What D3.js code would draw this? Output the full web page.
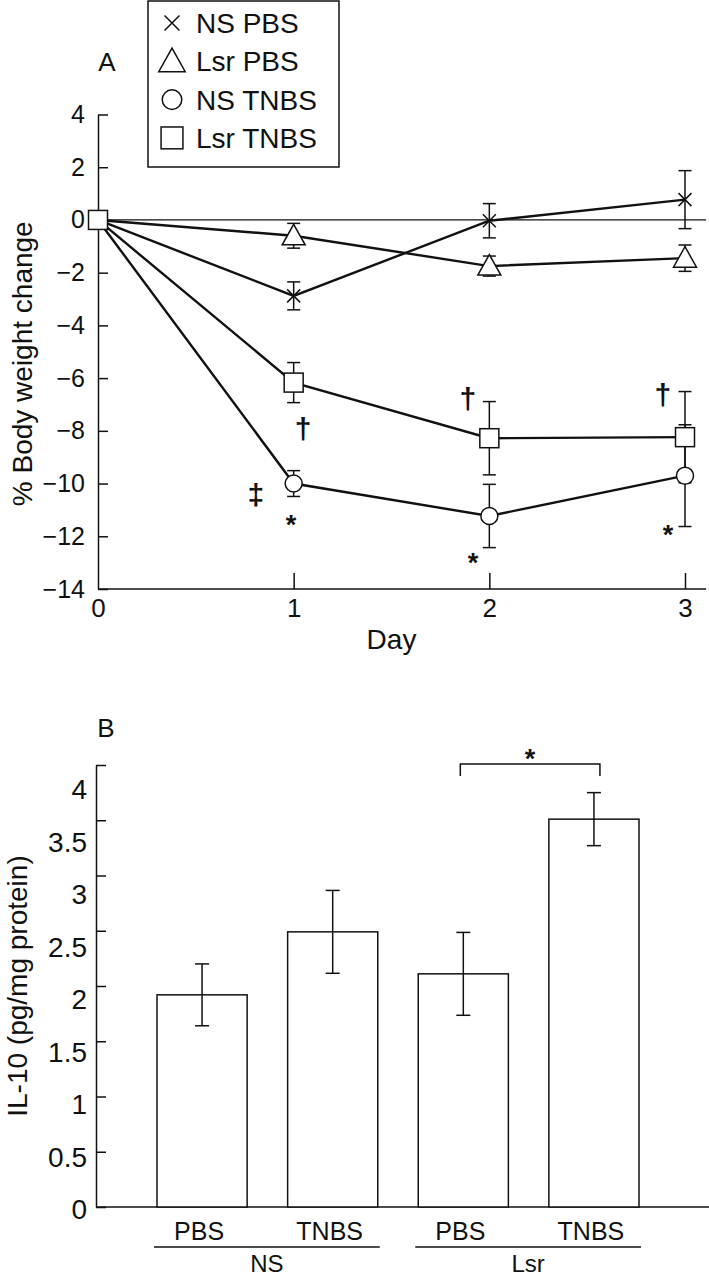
<!DOCTYPE html>
<html><head><meta charset="utf-8">
<script src="https://cdn.jsdelivr.net/npm/d3@7"></script>
<style>body{margin:0;background:#fff}svg{display:block}text{font-family:"Liberation Sans",Arial,sans-serif;fill:#111}</style>
</head><body>
<script>
// ---------- Panel A data ----------
const days = [0, 1, 2, 3];
const seriesNames = ["NS PBS", "Lsr PBS", "NS TNBS", "Lsr TNBS"];
const seriesSymbols = ["cross", "triangle", "circle", "square"];
const nsPbs = [0, -2.88, -0.03, 0.77];
const nsPbsErr = [0, 0.53, 0.65, 1.1];
const lsrPbs = [0, -0.6, -1.75, -1.45];
const lsrPbsErr = [0, 0.47, 0.38, 0.5];
const nsTnbs = [0, -10.0, -11.23, -9.7];
const nsTnbsErr = [0, 0.49, 1.2, 1.93];
const lsrTnbs = [0, -6.17, -8.28, -8.24];
const lsrTnbsErr = [0, 0.76, 1.39, 1.73];
const yTicksA = [-14, -12, -10, -8, -6, -4, -2, 0, 2, 4];
const xTicksA = [0, 1, 2, 3];
// significance marks (text, day, value)
const annoText = ["†", "†", "†", "‡", "*", "*", "*"];
const annoDay = [1.048, 1.89, 2.887, 0.807, 0.986, 1.916, 2.913];
const annoVal = [-7.85, -6.71, -6.56, -10.36, -11.27, -12.71, -11.65];

// ---------- Panel B data ----------
const categoriesB = ["NS PBS", "NS TNBS", "Lsr PBS", "Lsr TNBS"];
const catLabelsB = ["PBS", "TNBS", "PBS", "TNBS"];
const groupsB = ["NS", "Lsr"];
const il10 = [1.92, 2.49, 2.11, 3.51];
const il10Err = [0.28, 0.375, 0.375, 0.24];
const yTicksB = [0, 0.5, 1, 1.5, 2, 2.5, 3, 3.5, 4];

const W = 709, H = 1280;
const svg = d3.select("body").append("svg").attr("width", W).attr("height", H);

// ================= PANEL A =================
const xA = d3.scaleLinear().domain([0, 3]).range([98, 685]);
const yA = d3.scaleLinear().domain([-14, 4]).range([589, 114.5]);
const xEndA = 3.108;
const gA = svg.append("g");

// y axis
const axA = gA.append("g").attr("transform", `translate(${xA(0)},0)`)
  .call(d3.axisLeft(yA).tickValues(yTicksA).tickSizeInner(-10).tickSizeOuter(0).tickPadding(13).tickFormat(d3.format("d")));
axA.selectAll("text").style("font-size", "25px").attr("fill", "#111");
axA.selectAll("path,line").attr("stroke", "#111").attr("stroke-width", 1.5);
// x axis
const axAx = gA.append("g").attr("transform", `translate(0,${yA(-14)})`)
  .call(d3.axisBottom(xA).tickValues(xTicksA).tickSizeInner(-16).tickSizeOuter(0).tickPadding(10).tickFormat(d3.format("d")));
axAx.select(".domain").attr("d", `M${xA(0)},0H${xA(xEndA)}`);
axAx.selectAll(".tick").filter(d => d === 0).select("line").remove();
axAx.selectAll("text").style("font-size", "26px").attr("fill", "#111");
axAx.selectAll("path,line").attr("stroke", "#111").attr("stroke-width", 1.5);

// zero line
gA.append("line").attr("x1", xA(0)).attr("x2", xA(xEndA)).attr("y1", yA(0)).attr("y2", yA(0))
  .attr("stroke", "#111").attr("stroke-width", 1.3);

// titles
gA.append("text").attr("x", xA(1.5)).attr("y", 649).attr("text-anchor", "middle").style("font-size", "28px").text("Day");
gA.append("text").attr("transform", `translate(32,${(yA(4) + yA(-14)) / 2 + 12}) rotate(-90)`)
  .attr("text-anchor", "middle").style("font-size", "28px").text("% Body weight change");
gA.append("text").attr("x", 107).attr("y", 71).attr("text-anchor", "middle").style("font-size", "26px").text("A");

const seriesVals = [nsPbs, lsrPbs, nsTnbs, lsrTnbs];
const seriesErrs = [nsPbsErr, lsrPbsErr, nsTnbsErr, lsrTnbsErr];
const lineGen = d3.line().x((d, i) => xA(days[i])).y(d => yA(d));

// lines
seriesVals.forEach(v => {
  gA.append("path").attr("d", lineGen(v)).attr("fill", "none").attr("stroke", "#111").attr("stroke-width", 2.4);
});
// error bars
const capA = 6.5;
seriesVals.forEach((v, s) => {
  v.forEach((val, i) => {
    const e = seriesErrs[s][i];
    if (!e) return;
    const x = xA(days[i]);
    const g = gA.append("g").attr("stroke", "#111").attr("stroke-width", 1.5);
    g.append("line").attr("x1", x).attr("x2", x).attr("y1", yA(val + e)).attr("y2", yA(val - e));
    g.append("line").attr("x1", x - capA).attr("x2", x + capA).attr("y1", yA(val + e)).attr("y2", yA(val + e));
    g.append("line").attr("x1", x - capA).attr("x2", x + capA).attr("y1", yA(val - e)).attr("y2", yA(val - e));
  });
});

function drawSymbol(g, type, x, y, sc) {
  sc = sc || 1;
  let el;
  if (type === "cross") {
    const r = 6.5 * sc;
    el = g.append("path").attr("d", `M${x - r},${y - r}L${x + r},${y + r}M${x - r},${y + r}L${x + r},${y - r}`).attr("fill", "none");
  } else if (type === "triangle") {
    el = g.append("path").attr("d", `M${x},${y - 11.5 * sc}L${x + 11.5 * sc},${y + 9 * sc}L${x - 11.5 * sc},${y + 9 * sc}Z`).attr("fill", "#fff");
  } else if (type === "circle") {
    el = g.append("circle").attr("cx", x).attr("cy", y).attr("r", 8.5 * sc).attr("fill", "#fff");
  } else {
    const h = 9.5 * sc;
    el = g.append("rect").attr("x", x - h).attr("y", y - h).attr("width", 2 * h).attr("height", 2 * h).attr("fill", "#fff");
  }
  el.attr("stroke", "#111").attr("stroke-width", 1.5);
}
// markers
seriesVals.forEach((v, s) => {
  v.forEach((val, i) => {
    if (i === 0 && seriesSymbols[s] !== "square") return;
    drawSymbol(gA, seriesSymbols[s], xA(days[i]), yA(val));
  });
});

// annotations
annoText.forEach((t, i) => {
  const isStar = t === "*";
  gA.append("text").attr("x", xA(annoDay[i])).attr("y", yA(annoVal[i]))
    .attr("text-anchor", "middle").attr("dominant-baseline", "central")
    .attr("dy", isStar ? "0.3em" : "0.05em")
    .style("font-size", isStar ? "27px" : "30px").style("font-weight", "bold")
    .text(t);
});

// legend
const leg = svg.append("g");
leg.append("rect").attr("x", 148).attr("y", 1).attr("width", 191).attr("height", 166)
  .attr("fill", "#fff").attr("stroke", "#111").attr("stroke-width", 1.5);
seriesNames.forEach((n, i) => {
  const cy = 23 + i * 38.3;
  drawSymbol(leg, seriesSymbols[i], 172, cy, 1.15);
  leg.append("text").attr("x", 196).attr("y", cy).attr("dominant-baseline", "central").attr("dy", "0.02em")
    .style("font-size", "28px").text(n);
});

// ================= PANEL B =================
const yB = d3.scaleLinear().domain([0, 4]).range([1207, 765]);
const yBLabel = d3.scaleLinear().domain([0, 4]).range([1210, 790]);
const xB = d3.scaleBand().domain(categoriesB).range([96, 700]).paddingInner(0.31).paddingOuter(0.467);
const gB = svg.append("g");

const axB = gB.append("g").attr("transform", `translate(96,0)`)
  .call(d3.axisLeft(yB).tickValues(yTicksB).tickSizeInner(-10).tickSizeOuter(0).tickPadding(9).tickFormat(d => d3.format("")(d)));
axB.selectAll(".tick text").attr("y", d => yBLabel(d) - yB(d)).style("font-size", "28px").attr("fill", "#111");
axB.selectAll("path,line").attr("stroke", "#111").attr("stroke-width", 1.5);
// baseline
gB.append("line").attr("x1", 96).attr("x2", W).attr("y1", yB(0)).attr("y2", yB(0)).attr("stroke", "#111").attr("stroke-width", 1.5);

// bars
gB.selectAll("rect.bar").data(il10).join("rect").attr("class", "bar")
  .attr("x", (d, i) => xB(categoriesB[i])).attr("width", xB.bandwidth())
  .attr("y", d => yB(d)).attr("height", d => yB(0) - yB(d))
  .attr("fill", "#fff").attr("stroke", "#111").attr("stroke-width", 1.5);
// error bars
const capB = 7;
il10.forEach((d, i) => {
  const cx = xB(categoriesB[i]) + xB.bandwidth() / 2;
  const e = il10Err[i];
  const g = gB.append("g").attr("stroke", "#111").attr("stroke-width", 1.5);
  g.append("line").attr("x1", cx).attr("x2", cx).attr("y1", yB(d + e)).attr("y2", yB(d - e));
  g.append("line").attr("x1", cx - capB).attr("x2", cx + capB).attr("y1", yB(d + e)).attr("y2", yB(d + e));
  g.append("line").attr("x1", cx - capB).attr("x2", cx + capB).attr("y1", yB(d - e)).attr("y2", yB(d - e));
});
// category labels
catLabelsB.forEach((t, i) => {
  const cx = xB(categoriesB[i]) + xB.bandwidth() / 2;
  gB.append("text").attr("x", cx - 3).attr("y", 1240).attr("text-anchor", "middle").style("font-size", "25px").text(t);
});
// group lines + labels
groupsB.forEach((gname, j) => {
  const x0 = xB(categoriesB[2 * j]) - 3;
  const x1 = xB(categoriesB[2 * j + 1]) + xB.bandwidth() + 2;
  gB.append("line").attr("x1", x0).attr("x2", x1).attr("y1", 1247).attr("y2", 1247).attr("stroke", "#111").attr("stroke-width", 1.5);
  gB.append("text").attr("x", (x0 + x1) / 2).attr("y", 1272).attr("text-anchor", "middle").style("font-size", "24px").text(gname);
});
// significance bracket
{
  const bx0 = xB(categoriesB[2]) + xB.bandwidth() / 2 - 3;
  const bx1 = xB(categoriesB[3]) + xB.bandwidth() / 2 + 6;
  gB.append("path").attr("d", `M${bx0},${yB(3.9)}V${yB(4.01)}H${bx1}V${yB(3.9)}`)
    .attr("fill", "none").attr("stroke", "#111").attr("stroke-width", 1.5);
  gB.append("text").attr("x", (bx0 + bx1) / 2).attr("y", yB(4.13)).attr("text-anchor", "middle")
    .attr("dominant-baseline", "central").attr("dy", "0.3em").style("font-size", "27px").style("font-weight", "bold").text("*");
}
// titles
gB.append("text").attr("x", 106).attr("y", 737).attr("text-anchor", "middle").style("font-size", "26px").text("B");
gB.append("text").attr("transform", `translate(27,${(yB(4) + yB(0)) / 2}) rotate(-90)`)
  .attr("text-anchor", "middle").style("font-size", "28px").text("IL-10 (pg/mg protein)");
</script>
</body></html>
